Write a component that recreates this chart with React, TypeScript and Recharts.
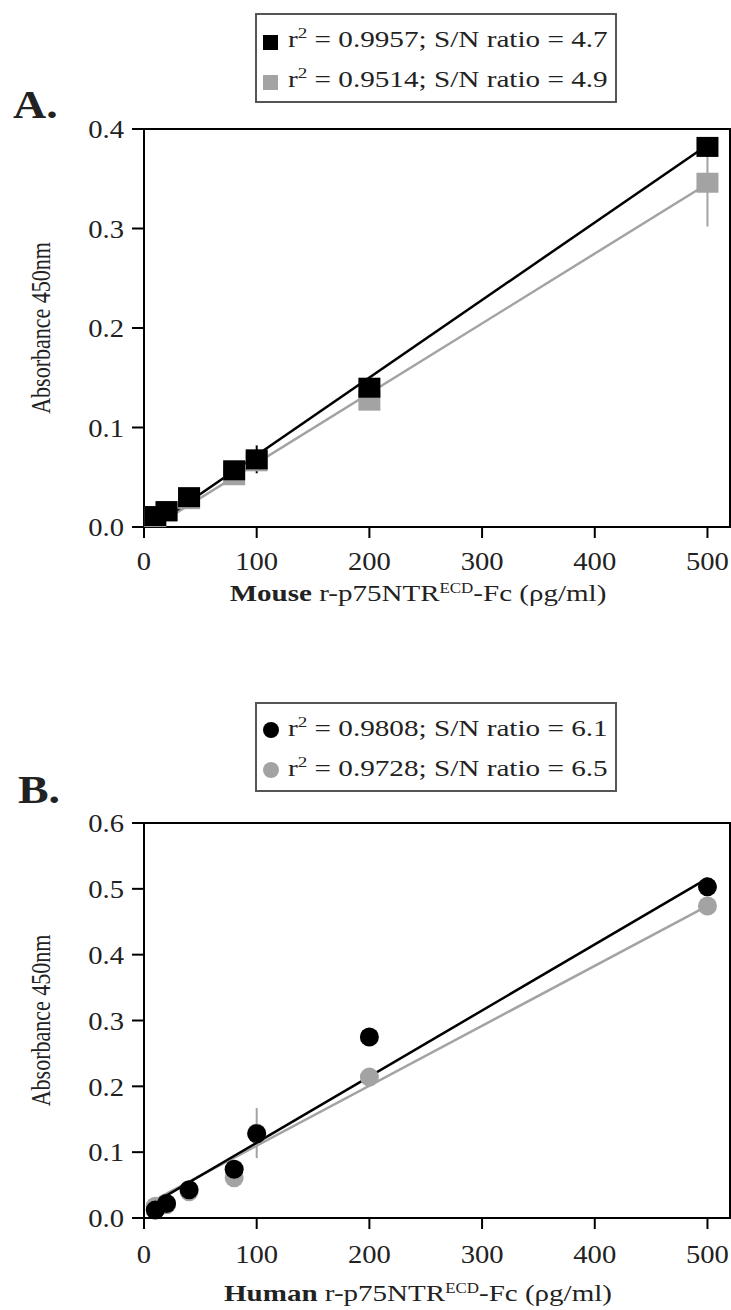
import React from 'react';
import { ComposedChart, Scatter, XAxis, YAxis, ErrorBar, ReferenceArea, Label } from 'recharts';

// ---------- data ----------
const concentrations = [10, 20, 40, 80, 100, 200, 500];
const xTicks = [0, 100, 200, 300, 400, 500];
const yTicksA = [0, 0.1, 0.2, 0.3, 0.4];
const yTicksB = [0, 0.1, 0.2, 0.3, 0.4, 0.5, 0.6];

// Panel A (Mouse)
const mouseBlack = [0.011, 0.016, 0.030, 0.057, 0.068, 0.140, 0.382];
const mouseBlackErr = [0.002, 0.002, 0.003, 0.004, 0.014, 0.005, 0.006];
const mouseGray = [0.010, 0.015, 0.028, 0.052, 0.066, 0.127, 0.346];
const mouseGrayErr = [0.002, 0.002, 0.003, 0.003, 0.004, 0.005, 0.044];
const mouseFitX = [10, 500];
const mouseFitBlack = [0.002, 0.384];
const mouseFitGray = [0.001, 0.345];

// Panel B (Human)
const humanBlack = [0.012, 0.022, 0.043, 0.074, 0.128, 0.275, 0.503];
const humanBlackErr = [0.002, 0.002, 0.003, 0.004, 0.006, 0.006, 0.006];
const humanGray = [0.018, 0.020, 0.040, 0.061, 0.129, 0.214, 0.474];
const humanGrayErr = [0.002, 0.002, 0.003, 0.004, 0.038, 0.006, 0.006];
const humanFitX = [10, 500];
const humanFitBlack = [0.024, 0.516];
const humanFitGray = [0.028, 0.474];

const legendA = [
  { color: '#000000', r2: '0.9957', sn: '4.7' },
  { color: '#a3a3a3', r2: '0.9514', sn: '4.9' },
];
const legendB = [
  { color: '#000000', r2: '0.9808', sn: '6.1' },
  { color: '#a3a3a3', r2: '0.9728', sn: '6.5' },
];

// ---------- style ----------
const FF = "'Liberation Serif', 'Times New Roman', Times, serif";
const BLACK = '#000000';
const GRAY = '#a3a3a3';
const TEXT = '#222222';

const toPts = (xs: number[], ys: number[], errs?: number[]) =>
  xs.map((x, i) => ({ x, y: ys[i], err: errs ? errs[i] : 0 }));

const XTick = (props: any) => {
  const { x, y, payload } = props;
  return (
    <g transform={`translate(${x},${y}) scale(1.1,1)`}>
      <text x={0} y={0} dy="0.71em" textAnchor="middle" fontFamily={FF} fontSize={26} fill={TEXT}>
        {payload.value}
      </text>
    </g>
  );
};

const YTick = (props: any) => {
  const { x, y, payload } = props;
  return (
    <g transform={`translate(${x},${y}) scale(1.1,1)`}>
      <text x={0} y={0} dy="0.355em" textAnchor="end" fontFamily={FF} fontSize={26} fill={TEXT}>
        {Number(payload.value).toFixed(1)}
      </text>
    </g>
  );
};

const makeXTitle = (species: string, baseline: number) => (props: any) => {
  const vb = props.viewBox || { y: 0 };
  const y = vb.y + baseline;
  return (
    <g transform={`translate(418,${y}) scale(1.21,1)`}>
      <text x={0} y={0} textAnchor="middle" fontFamily={FF} fontSize={24} fill={TEXT}>
        <tspan fontWeight="bold">{species}</tspan>
        <tspan> r-p75NTR</tspan>
        <tspan fontSize={14} dy={-8}>ECD</tspan>
        <tspan dy={8}>-Fc (ρg/ml)</tspan>
      </text>
    </g>
  );
};

const YTitle = (props: any) => {
  const vb = props.viewBox || { y: 0, height: 0 };
  const cy = vb.y + vb.height / 2;
  return (
    <g transform={`translate(50,${cy}) scale(1.2,1) rotate(-90)`}>
      <text x={0} y={0} textAnchor="middle" fontFamily={FF} fontSize={22} fill={TEXT}>
        Absorbance 450nm
      </text>
    </g>
  );
};

const squareShape = (color: string) => (p: any) =>
  <rect x={p.cx - 11} y={p.cy - 10} width={22} height={20} fill={color} />;
const circleShape = (color: string) => (p: any) =>
  <circle cx={p.cx} cy={p.cy} r={9.5} fill={color} />;
const noShape = () => <g />;

type PanelProps = {
  top: number;
  height: number;
  plotTop: number;
  plotBottom: number;
  yMax: number;
  yTicks: number[];
  species: string;
  titleBaseline: number;
  tickMargin: number;
  black: any[];
  gray: any[];
  fitBlack: any[];
  fitGray: any[];
  marker: 'square' | 'circle';
};

const XH = 80;
const YW = 80;
const PLOT_LEFT = 144;
const PLOT_RIGHT = 730;

function Panel(p: PanelProps) {
  const shapeFn = p.marker === 'square' ? squareShape : circleShape;
  const axisStyle = { stroke: BLACK, strokeWidth: 2 };
  return (
    <div style={{ position: 'absolute', left: 0, top: p.top }}>
      <ComposedChart
        width={731}
        height={p.height}
        margin={{ top: p.plotTop, right: 731 - PLOT_RIGHT, bottom: p.height - p.plotBottom - XH, left: PLOT_LEFT - YW }}
      >
        <XAxis
          type="number"
          dataKey="x"
          domain={[0, 520]}
          ticks={xTicks}
          height={XH}
          axisLine={axisStyle}
          tickLine={axisStyle}
          tickSize={11}
          tickMargin={p.tickMargin}
          tick={<XTick />}
          interval={0}
        >
          <Label content={makeXTitle(p.species, p.titleBaseline)} />
        </XAxis>
        <YAxis
          type="number"
          dataKey="y"
          domain={[0, p.yMax]}
          ticks={p.yTicks}
          width={YW}
          axisLine={axisStyle}
          tickLine={axisStyle}
          tickSize={12}
          tickMargin={8}
          tick={<YTick />}
          interval={0}
        >
          <Label content={YTitle} />
        </YAxis>
        <ReferenceArea x1={0} x2={520} y1={0} y2={p.yMax} fill="none" stroke={BLACK} strokeWidth={2} ifOverflow="visible" />
        <Scatter data={p.fitGray} line={{ stroke: GRAY, strokeWidth: 2.5 }} shape={noShape} isAnimationActive={false} />
        <Scatter data={p.fitBlack} line={{ stroke: BLACK, strokeWidth: 2.5 }} shape={noShape} isAnimationActive={false} />
        <Scatter data={p.gray} shape={shapeFn(GRAY)} isAnimationActive={false}>
          <ErrorBar dataKey="err" direction="y" width={0} stroke={GRAY} strokeWidth={2} />
        </Scatter>
        <Scatter data={p.black} shape={shapeFn(BLACK)} isAnimationActive={false}>
          <ErrorBar dataKey="err" direction="y" width={0} stroke={BLACK} strokeWidth={2} />
        </Scatter>
      </ComposedChart>
    </div>
  );
}

function LegendBox(props: { left: number; top: number; rows: typeof legendA; marker: 'square' | 'circle' }) {
  const w = 362;
  const h = 90;
  return (
    <svg style={{ position: 'absolute', left: props.left, top: props.top }} width={w} height={h}>
      <rect x={1} y={1} width={w - 2} height={h - 2} fill="#ffffff" stroke="#555555" strokeWidth={2} />
      {props.rows.map((r, i) => {
        const by = 34 + i * 40;
        return (
          <g key={i}>
            {props.marker === 'square' ? (
              <rect x={8} y={by - 12} width={15} height={15} fill={r.color} />
            ) : (
              <circle cx={16} cy={by - 6} r={8} fill={r.color} />
            )}
            <g transform={`translate(33,${by}) scale(1.27,1)`}>
              <text x={0} y={0} fontFamily={FF} fontSize={23} fill={TEXT}>
                <tspan>r</tspan>
                <tspan fontSize={15} dy={-9}>2</tspan>
                <tspan dy={9}>{` = ${r.r2}; S/N ratio = ${r.sn}`}</tspan>
              </text>
            </g>
          </g>
        );
      })}
    </svg>
  );
}

export default function App() {
  return (
    <div style={{ position: 'absolute', left: 0, top: 0, width: 731, height: 1310, background: '#ffffff', overflow: 'hidden' }}>
      <Panel
        top={0}
        height={650}
        plotTop={129}
        plotBottom={527}
        yMax={0.4}
        yTicks={yTicksA}
        species="Mouse"
        titleBaseline={74}
        tickMargin={14}
        black={toPts(concentrations, mouseBlack, mouseBlackErr)}
        gray={toPts(concentrations, mouseGray, mouseGrayErr)}
        fitBlack={toPts(mouseFitX, mouseFitBlack)}
        fitGray={toPts(mouseFitX, mouseFitGray)}
        marker="square"
      />
      <Panel
        top={650}
        height={660}
        plotTop={173}
        plotBottom={568}
        yMax={0.6}
        yTicks={yTicksB}
        species="Human"
        titleBaseline={83}
        tickMargin={16}
        black={toPts(concentrations, humanBlack, humanBlackErr)}
        gray={toPts(concentrations, humanGray, humanGrayErr)}
        fitBlack={toPts(humanFitX, humanFitBlack)}
        fitGray={toPts(humanFitX, humanFitGray)}
        marker="circle"
      />
      <LegendBox left={255} top={13} rows={legendA} marker="square" />
      <LegendBox left={255} top={702} rows={legendB} marker="circle" />
      <svg style={{ position: 'absolute', left: 0, top: 0 }} width={731} height={1310} pointerEvents="none">
        <g transform="translate(13,118) scale(1.12,1)">
          <text x={0} y={0} fontFamily={FF} fontSize={41} fontWeight="bold" fill={TEXT}>A.</text>
        </g>
        <g transform="translate(18,803) scale(1.12,1)">
          <text x={0} y={0} fontFamily={FF} fontSize={41} fontWeight="bold" fill={TEXT}>B.</text>
        </g>
      </svg>
    </div>
  );
}
